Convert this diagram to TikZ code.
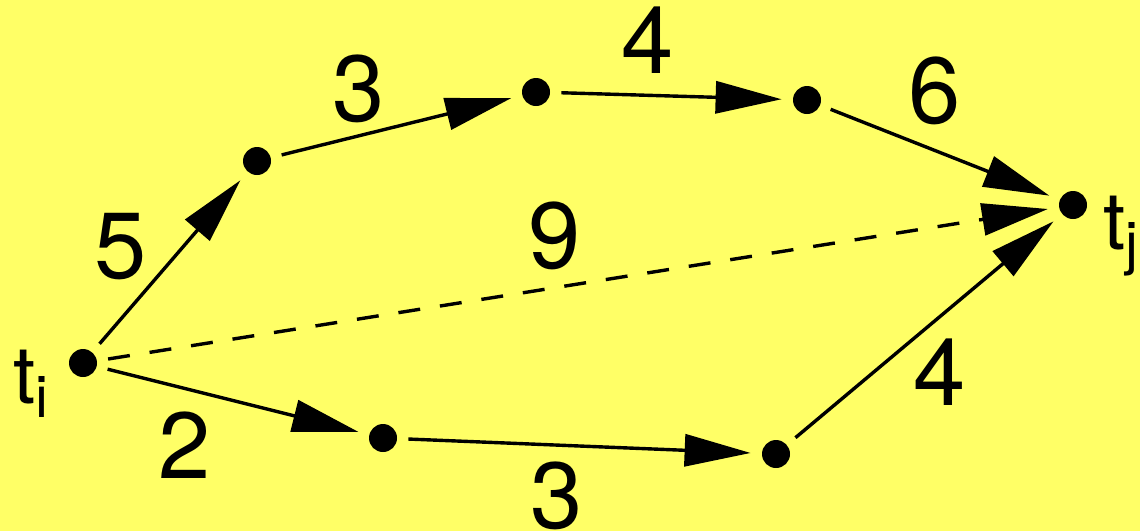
\documentclass[tikz,border=0pt]{standalone}
\usepackage{fontspec}
\setmainfont{TeX Gyre Heros}
\usetikzlibrary{arrows.meta}
\definecolor{bgyellow}{RGB}{255,255,102}
\tikzset{
  dot/.style={circle,fill=black,inner sep=0pt,minimum size=14pt},
  edge/.style={line width=1.7pt,-{Triangle[length=33pt,width=16pt]},shorten >=5.5pt,shorten <=5.5pt},
  dashedge/.style={edge,dash pattern=on 11pt off 10pt},
  lbl/.style={inner sep=0pt,font=\fontsize{47}{50}\selectfont},
  tlbl/.style={inner sep=0pt,anchor=base west}
}
\newcommand{\tsub}[1]{{\fontsize{40}{44}\selectfont t}\raisebox{-7pt}{\fontsize{29}{32}\selectfont #1}}
\begin{document}
\begin{tikzpicture}[x=0.5pt,y=-0.5pt]
\useasboundingbox (0,0) rectangle (1140,531);
\clip (0,0) rectangle (1140,531);
\fill[bgyellow] (0,0) rectangle (1140,531);
\node[dot] (ti) at (83,363) {};
\node[dot] (a) at (257,161) {};
\node[dot] (b) at (536,92) {};
\node[dot] (c) at (807,100) {};
\node[dot] (tj) at (1073,205) {};
\node[dot] (d) at (383,438) {};
\node[dot] (e) at (776,454) {};
\draw[edge] (ti) -- (a);
\draw[edge] (a) -- (b);
\draw[edge] (b) -- (c);
\draw[edge] (c) -- (tj);
\draw[dashedge] (ti) -- (tj);
\draw[edge] (ti) -- (d);
\draw[edge] (d) -- (e);
\draw[edge] (e) -- (tj);
\node[tlbl] (lti) at (13,403) {\tsub{i}};
\node[tlbl] (ltj) at (1103,249) {\tsub{j}};
\node[lbl] (l5) at (121,247) {5};
\node[lbl] (l3a) at (359,89) {3};
\node[lbl] (l4a) at (648,40) {4};
\node[lbl] (l6) at (935,91) {6};
\node[lbl] (l9) at (555,236) {9};
\node[lbl] (l2) at (185,445) {2};
\node[lbl] (l3b) at (557,496) {3};
\node[lbl] (l4b) at (940,372) {4};
\end{tikzpicture}
\end{document}
